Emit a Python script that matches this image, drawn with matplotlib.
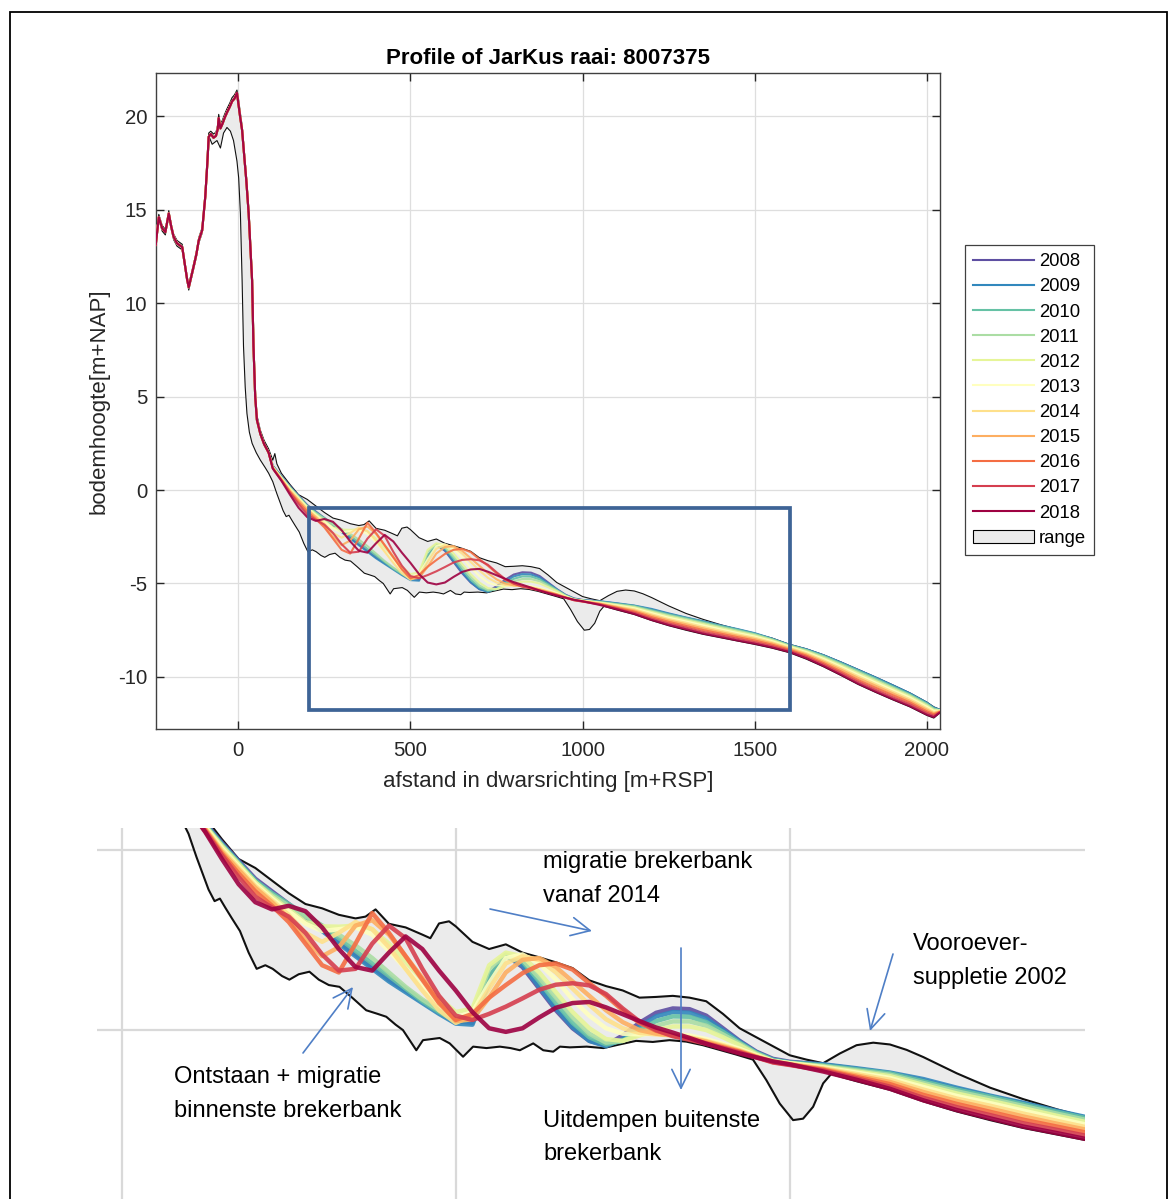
import numpy as np
import matplotlib
matplotlib.use('Agg')
import matplotlib.pyplot as plt
from matplotlib.patches import Rectangle, Patch, FancyArrowPatch
from matplotlib.lines import Line2D

plt.rcParams['font.family'] = ['Liberation Sans', 'DejaVu Sans']
plt.rcParams['axes.unicode_minus'] = False

# ---------------- data ----------------
years = [2008, 2009, 2010, 2011, 2012, 2013, 2014, 2015, 2016, 2017, 2018]
year_colors = ['#5E4FA2', '#3288BD', '#66C2A5', '#ABDDA4', '#E6F598', '#FFFFBF',
               '#FEE08B', '#FDAE61', '#F46D43', '#D53E4F', '#9E0142']

# dune part (practically identical for all years)
x_dune = [-240, -231, -221, -212, -202, -195, -188, -178, -163, -149, -144, -137, -130, -122,
          -115, -105, -96, -90, -86, -80, -72, -65, -60, -57, -52, -46, -40, -33, -25, -18,
          -11, -4, 0, 5, 11, 17, 23, 30, 35, 40, 44, 49, 54, 64, 75, 88]
z_dune = [13.1, 14.6, 14.0, 13.8, 14.8, 14.1, 13.55, 13.2, 13.0, 11.3, 10.85, 11.4, 11.95, 12.6,
          13.35, 13.9, 15.7, 17.5, 18.9, 19.05, 18.85, 18.95, 19.3, 19.9, 19.35, 19.6, 19.9, 20.2,
          20.5, 20.8, 20.95, 21.25, 20.7, 20.0, 19.25, 17.9, 16.6, 14.8, 13.0, 11.2, 7.7, 5.0,
          3.75, 3.0, 2.45, 2.0]

# breaker-bar zone
x_bar = [100, 125, 150, 175, 200, 225, 250, 275, 300, 325, 350, 375, 400, 425, 450, 475, 500,
         525, 550, 575, 600, 625, 650, 675, 700, 725, 750, 775, 800, 825, 850, 875, 900, 925,
         950, 975, 1000]
z2008_bar = [1.3, 0.75, 0.2, -0.3, -0.8, -1.15, -1.5, -1.85, -2.2, -2.55, -2.9, -3.25, -3.6, -3.9,
             -4.2, -4.5, -4.75, -4.8, -3.55, -2.92, -3.25, -3.85, -4.45, -4.95, -5.3, -5.42, -5.15,
             -4.8, -4.52, -4.4, -4.42, -4.6, -4.95, -5.3, -5.6, -5.8, -5.88]
z2009_bar = [1.28, 0.72, 0.17, -0.33, -0.85, -1.2, -1.55, -1.9, -2.25, -2.6, -2.95, -3.3, -3.65,
             -3.95, -4.25, -4.55, -4.82, -4.85, -3.7, -2.95, -3.2, -3.8, -4.4, -4.92, -5.3, -5.45,
             -5.25, -4.9, -4.62, -4.5, -4.52, -4.68, -5.0, -5.32, -5.62, -5.82, -5.9]
z2010_bar = [1.27, 0.7, 0.15, -0.35, -0.85, -1.2, -1.5, -1.8, -2.1, -2.45, -2.8, -3.15, -3.5, -3.85,
             -4.2, -4.5, -4.75, -4.7, -3.5, -2.95, -3.1, -3.65, -4.25, -4.8, -5.2, -5.4, -5.3, -5.0,
             -4.75, -4.62, -4.63, -4.78, -5.05, -5.35, -5.63, -5.83, -5.9]
z2011_bar = [1.25, 0.68, 0.12, -0.38, -0.9, -1.25, -1.55, -1.85, -2.1, -2.35, -2.65, -3.0, -3.4,
             -3.8, -4.15, -4.45, -4.7, -4.55, -3.3, -2.9, -3.05, -3.55, -4.1, -4.65, -5.1, -5.35,
             -5.3, -5.1, -4.88, -4.76, -4.76, -4.88, -5.12, -5.38, -5.65, -5.85, -5.92]
z2012_bar = [1.25, 0.66, 0.1, -0.4, -0.9, -1.3, -1.65, -2.0, -2.12, -2.13, -2.1, -2.2, -2.6, -3.1,
             -3.6, -4.1, -4.5, -4.4, -3.2, -2.85, -2.95, -3.4, -3.95, -4.5, -4.95, -5.25, -5.3,
             -5.15, -5.0, -4.9, -4.9, -5.0, -5.2, -5.42, -5.68, -5.86, -5.92]
z2013_bar = [1.22, 0.64, 0.05, -0.45, -0.95, -1.35, -1.7, -2.05, -2.25, -2.2, -2.15, -2.35, -2.8,
             -3.3, -3.8, -4.3, -4.65, -4.5, -3.7, -3.0, -2.9, -3.15, -3.6, -4.15, -4.6, -4.95, -5.1,
             -5.12, -5.1, -5.1, -5.15, -5.25, -5.38, -5.52, -5.7, -5.86, -5.92]
z2014_bar = [1.2, 0.6, 0.0, -0.5, -1.0, -1.4, -1.8, -2.3, -2.55, -2.3, -2.0, -2.2, -2.7, -3.3, -3.9,
             -4.45, -4.8, -4.6, -3.85, -3.15, -2.95, -3.05, -3.4, -3.85, -4.3, -4.7, -4.95, -5.08,
             -5.12, -5.15, -5.2, -5.3, -5.42, -5.56, -5.72, -5.87, -5.94]
z2015_bar = [1.2, 0.58, -0.05, -0.55, -1.05, -1.45, -1.9, -2.5, -2.95, -2.7, -2.1, -1.95, -2.35,
             -2.95, -3.55, -4.2, -4.75, -4.7, -4.1, -3.4, -3.05, -3.0, -3.25, -3.65, -4.05, -4.45,
             -4.78, -5.0, -5.1, -5.15, -5.22, -5.32, -5.45, -5.58, -5.74, -5.88, -5.95]
z2016_bar = [1.18, 0.55, -0.1, -0.65, -1.15, -1.55, -2.0, -2.6, -3.2, -3.4, -2.6, -1.75, -2.3, -2.95,
             -3.6, -4.25, -4.72, -4.55, -4.1, -3.75, -3.42, -3.2, -3.15, -3.32, -3.7, -4.05, -4.45,
             -4.8, -5.02, -5.15, -5.25, -5.36, -5.48, -5.6, -5.75, -5.89, -5.96]
z2017_bar = [1.16, 0.52, -0.15, -0.75, -1.3, -1.6, -1.85, -2.3, -2.9, -3.35, -3.3, -2.6, -2.1, -2.45,
             -3.3, -4.05, -4.6, -4.72, -4.55, -4.35, -4.12, -3.88, -3.74, -3.7, -3.76, -4.0, -4.4,
             -4.76, -5.0, -5.17, -5.27, -5.38, -5.5, -5.62, -5.76, -5.9, -5.97]
z2018_bar = [1.15, 0.5, -0.25, -0.95, -1.45, -1.65, -1.55, -1.7, -2.15, -2.75, -3.25, -3.35, -2.85,
             -2.4, -2.75, -3.35, -3.9, -4.5, -4.95, -5.05, -4.95, -4.65, -4.38, -4.25, -4.22, -4.37,
             -4.56, -4.75, -4.93, -5.07, -5.22, -5.38, -5.52, -5.65, -5.76, -5.87, -5.95]

# offshore part
x_off = [1050, 1100, 1150, 1200, 1250, 1300, 1350, 1400, 1450, 1500, 1550, 1600, 1650, 1700, 1750,
         1800, 1850, 1900, 1950, 2000, 2020, 2038]
z2008_off = [-5.96, -6.08, -6.2, -6.4, -6.63, -6.84, -7.04, -7.26, -7.46, -7.68, -7.96, -8.29, -8.53,
             -8.85, -9.23, -9.63, -10.04, -10.46, -10.89, -11.4, -11.66, -11.77]
z2009_off = [-5.95, -6.06, -6.18, -6.36, -6.6, -6.82, -7.02, -7.24, -7.44, -7.66, -7.95, -8.28, -8.52,
             -8.84, -9.22, -9.62, -10.02, -10.44, -10.87, -11.38, -11.64, -11.76]
z2010_off = [-5.98, -6.09, -6.2, -6.42, -6.65, -6.85, -7.06, -7.27, -7.47, -7.69, -7.97, -8.3, -8.55,
             -8.87, -9.26, -9.66, -10.07, -10.5, -10.92, -11.42, -11.68, -11.78]
z2011_off = [-6.0, -6.12, -6.24, -6.47, -6.7, -6.9, -7.11, -7.32, -7.52, -7.73, -8.0, -8.32, -8.58,
             -8.92, -9.31, -9.72, -10.13, -10.55, -10.97, -11.47, -11.72, -11.79]
z2012_off = [-6.02, -6.15, -6.28, -6.52, -6.76, -6.96, -7.17, -7.38, -7.58, -7.78, -8.04, -8.35, -8.63,
             -8.98, -9.38, -9.8, -10.21, -10.62, -11.03, -11.53, -11.77, -11.8]
z2013_off = [-6.04, -6.18, -6.33, -6.58, -6.83, -7.03, -7.24, -7.45, -7.65, -7.84, -8.09, -8.39, -8.68,
             -9.04, -9.45, -9.88, -10.29, -10.7, -11.1, -11.6, -11.82, -11.81]
z2014_off = [-6.06, -6.22, -6.38, -6.65, -6.9, -7.1, -7.32, -7.52, -7.72, -7.9, -8.14, -8.43, -8.73,
             -9.11, -9.52, -9.96, -10.37, -10.78, -11.18, -11.67, -11.88, -11.82]
z2015_off = [-6.08, -6.26, -6.44, -6.72, -6.97, -7.18, -7.4, -7.6, -7.79, -7.97, -8.2, -8.48, -8.79,
             -9.18, -9.6, -10.05, -10.46, -10.87, -11.27, -11.75, -11.94, -11.84]
z2016_off = [-6.1, -6.3, -6.5, -6.8, -7.05, -7.27, -7.49, -7.68, -7.87, -8.05, -8.27, -8.54, -8.86,
             -9.26, -9.7, -10.16, -10.57, -10.97, -11.36, -11.84, -12.0, -11.86]
z2017_off = [-6.12, -6.34, -6.57, -6.88, -7.14, -7.36, -7.59, -7.77, -7.96, -8.14, -8.35, -8.6, -8.93,
             -9.34, -9.79, -10.26, -10.68, -11.08, -11.46, -11.93, -12.08, -11.88]
z2018_off = [-6.15, -6.38, -6.63, -6.95, -7.22, -7.45, -7.68, -7.86, -8.05, -8.22, -8.42, -8.66, -9.0,
             -9.42, -9.88, -10.36, -10.78, -11.18, -11.56, -12.02, -12.15, -11.9]

# envelope of all measured profiles ("range")
rng_upper_x = [-240, -231, -221, -212, -202, -195, -188, -178, -163, -149, -144, -137, -130, -122,
               -115, -105, -96, -90, -86, -80, -72, -65, -60, -57, -52, -46, -40, -33, -25, -18,
               -11, -4, 0, 5, 11, 17, 23, 30, 35, 40, 44, 49, 54, 64, 75, 88, 100, 106, 112, 125,
               150, 175, 200, 225, 250, 275, 300, 325, 350, 365, 380, 400, 425, 450, 462, 475, 490,
               500, 525, 550, 575, 600, 625, 650, 675, 700, 725, 750, 775, 800, 825, 850, 875, 900,
               925, 950, 975, 1000, 1025, 1050, 1075, 1100, 1125, 1150, 1175, 1200, 1250, 1300,
               1350, 1400, 1450, 1500, 1550, 1600, 1650, 1700, 1750, 1800, 1850, 1900, 1950, 2000,
               2020, 2038]
rng_upper_z = [13.3, 14.75, 14.15, 13.95, 14.95, 14.25, 13.7, 13.35, 13.15, 11.45, 11.0, 11.55, 12.1,
               12.75, 13.5, 14.05, 15.85, 17.65, 19.1, 19.2, 19.05, 19.15, 19.5, 20.1, 19.55, 19.8,
               20.1, 20.4, 20.7, 21.0, 21.15, 21.4, 21.0, 20.3, 19.5, 18.2, 16.9, 15.1, 13.3, 11.5,
               8.0, 5.3, 4.0, 3.2, 2.65, 2.2, 1.6, 1.95, 1.4, 0.9, 0.3, -0.25, -0.5, -0.85, -1.2,
               -1.5, -1.62, -1.8, -1.9, -1.85, -1.65, -2.05, -2.15, -2.35, -2.45, -2.04, -1.98,
               -2.12, -2.55, -2.75, -2.62, -2.85, -2.98, -3.12, -3.28, -3.62, -3.78, -3.9, -4.1,
               -4.08, -4.05, -4.1, -4.2, -4.55, -4.95, -5.2, -5.45, -5.7, -5.82, -5.92, -5.65, -5.42,
               -5.35, -5.4, -5.55, -5.75, -6.2, -6.6, -6.92, -7.2, -7.45, -7.68, -7.92, -8.25, -8.5,
               -8.82, -9.2, -9.6, -10.0, -10.42, -10.85, -11.35, -11.6, -11.74]
rng_lower_x = [-240, -231, -221, -212, -202, -195, -188, -178, -163, -149, -144, -137, -130, -122,
               -115, -105, -96, -90, -86, -76, -62, -52, -43, -33, -23, -14, -9, -4, 1, 6, 11, 15,
               20, 25, 32, 40, 52, 64, 78, 88, 100, 112, 122, 130, 139, 147, 155, 165, 177, 190,
               202, 215, 226, 240, 251, 265, 281, 295, 310, 326, 345, 366, 383, 396, 410, 421, 441,
               451, 476, 491, 511, 526, 546, 566, 582, 596, 616, 631, 646, 656, 671, 696, 721, 745,
               770, 795, 820, 845, 870, 895, 920, 945, 965, 985, 1005, 1020, 1035, 1050, 1062, 1100,
               1150, 1200, 1250, 1300, 1350, 1400, 1450, 1500, 1550, 1600, 1650, 1700, 1750, 1800,
               1850, 1900, 1950, 2000, 2020, 2038]
rng_lower_z = [13.0, 14.45, 13.85, 13.65, 14.65, 13.95, 13.4, 13.05, 12.85, 11.15, 10.7, 11.25, 11.8,
               12.45, 13.2, 13.75, 15.5, 17.3, 18.95, 18.5, 18.7, 18.3, 19.1, 19.4, 19.2, 18.7,
               18.15, 17.6, 16.7, 14.8, 11.2, 7.7, 5.5, 4.1, 3.1, 2.5, 2.0, 1.6, 1.2, 0.9, 0.45,
               -0.2, -0.7, -1.1, -1.42, -1.35, -1.6, -1.9, -2.25, -2.85, -3.3, -3.2, -3.3, -3.5,
               -3.6, -3.45, -3.38, -3.6, -3.75, -3.8, -4.1, -4.45, -4.55, -4.63, -4.85, -5.0, -5.56,
               -5.28, -5.22, -5.37, -5.74, -5.46, -5.5, -5.46, -5.5, -5.56, -5.37, -5.56, -5.6,
               -5.46, -5.48, -5.46, -5.5, -5.4, -5.3, -5.33, -5.28, -5.32, -5.42, -5.55, -5.68,
               -5.82, -6.39, -7.04, -7.5, -7.46, -7.13, -6.48, -6.22, -6.42, -6.66, -6.98, -7.26,
               -7.5, -7.72, -7.9, -8.08, -8.26, -8.46, -8.7, -9.05, -9.46, -9.92, -10.4, -10.82,
               -11.22, -11.6, -12.06, -12.2, -11.92]

bar_profiles = [z2008_bar, z2009_bar, z2010_bar, z2011_bar, z2012_bar, z2013_bar, z2014_bar,
                z2015_bar, z2016_bar, z2017_bar, z2018_bar]
off_profiles = [z2008_off, z2009_off, z2010_off, z2011_off, z2012_off, z2013_off, z2014_off,
                z2015_off, z2016_off, z2017_off, z2018_off]

title = 'Profile of JarKus raai: 8007375'
xlabel = 'afstand in dwarsrichting [m+RSP]'
ylabel = 'bodemhoogte[m+NAP]'

W, H = 1172, 1199
fig = plt.figure(figsize=(W / 100, H / 100), dpi=100)
fig.patch.set_facecolor('white')

RANGE_FACE = '#ebebeb'


def draw_profiles(ax, lw_line, lw_edge, alpha):
    px = np.concatenate([rng_upper_x, rng_lower_x[::-1]])
    pz = np.concatenate([rng_upper_z, rng_lower_z[::-1]])
    ax.fill(px, pz, facecolor=RANGE_FACE, edgecolor='none', zorder=1)
    ax.plot(rng_upper_x, rng_upper_z, color='#111111', lw=lw_edge, zorder=2)
    ax.plot(rng_lower_x, rng_lower_z, color='#111111', lw=lw_edge, zorder=2)
    for yr, col, zb, zo in zip(years, year_colors, bar_profiles, off_profiles):
        xx = list(x_dune) + list(x_bar) + list(x_off)
        zz = list(z_dune) + list(zb) + list(zo)
        ax.plot(xx, zz, color=col, lw=lw_line, alpha=alpha, zorder=3,
                solid_joinstyle='round', solid_capstyle='round')


# ---------------- main axes ----------------
ax = fig.add_axes([155.7 / W, 1 - 728.7 / H, (940 - 155.7) / W, (728.7 - 72.7) / H])
draw_profiles(ax, 1.5, 0.8, 0.9)
ax.set_xlim(-240, 2038)
ax.set_ylim(-12.77, 22.33)
ax.set_xticks([0, 500, 1000, 1500, 2000])
ax.set_yticks([-10, -5, 0, 5, 10, 15, 20])
ax.grid(True, color='#dedede', lw=0.9)
ax.set_axisbelow(True)
for s in ax.spines.values():
    s.set_color('#404040')
    s.set_linewidth(1.0)
ax.tick_params(direction='in', length=6, width=1.0, top=True, right=True,
               labelsize=14.7, colors='#262626')
ax.tick_params(axis='x', pad=9)
ax.tick_params(axis='y', pad=6)
ax.set_xlabel(xlabel, fontsize=16, color='#262626', labelpad=8)
ax.set_ylabel(ylabel, fontsize=16, color='#262626', labelpad=6)
ax.set_title(title, fontsize=16, fontweight='bold', pad=6)

# highlighted zoom window
ax.add_patch(Rectangle((206, -11.76), 1603 - 206, 11.76 - 0.96, fill=False,
                       edgecolor='#3e6496', lw=2.7, zorder=6))

handles = [Line2D([], [], color=c, lw=1.5) for c in year_colors]
handles.append(Patch(facecolor=RANGE_FACE, edgecolor='black', lw=0.8))
labels = [str(y) for y in years] + ['range']
leg = ax.legend(handles, labels, loc='upper left', bbox_to_anchor=(965 / W, 1 - 245 / H),
                bbox_transform=fig.transFigure, borderaxespad=0, fontsize=13.3,
                handlelength=3.3, handletextpad=0.25, labelspacing=0.44, borderpad=0.45,
                fancybox=False, framealpha=1, edgecolor='#404040')
leg.get_frame().set_linewidth(0.9)

# ---------------- magnified view ----------------
ax2 = fig.add_axes([97 / W, 0, (1085 - 97) / W, (H - 828) / H])
draw_profiles(ax2, 3.2, 1.5, 0.9)
ax2.set_xlim(-37, 1442)
ax2.set_ylim(-9.69, 0.61)
ax2.set_xticks([0, 500, 1000])
ax2.set_yticks([-5, 0])
ax2.grid(True, color='#d9d9d9', lw=1.6)
ax2.set_axisbelow(True)
ax2.tick_params(length=0, labelbottom=False, labelleft=False)
for s in ax2.spines.values():
    s.set_visible(False)


def ftext(x, y, s):
    fig.text(x / W, 1 - y / H, s, fontsize=17, ha='left', va='baseline', color='black')


ftext(543, 868, 'migratie brekerbank')
ftext(543, 902, 'vanaf 2014')
ftext(913, 950, 'Vooroever-')
ftext(913, 984, 'suppletie 2002')
ftext(174, 1083, 'Ontstaan + migratie')
ftext(174, 1117, 'binnenste brekerbank')
ftext(543, 1127, 'Uitdempen buitenste')
ftext(543, 1160, 'brekerbank')

arrow_col = '#4f7fc6'
for (x0, y0), (x1, y1) in [((303, 1053), (353, 987)), ((490, 909), (592, 931)),
                           ((681, 948), (681, 1090)), ((893, 954), (870, 1031))]:
    fig.add_artist(FancyArrowPatch(
        (x0 / W, 1 - y0 / H), (x1 / W, 1 - y1 / H), transform=fig.transFigure,
        arrowstyle='->,head_length=0.45,head_width=0.22', mutation_scale=30,
        color=arrow_col, lw=1.2, shrinkA=0, shrinkB=0, zorder=10))

# outer frame
fig.add_artist(Rectangle((10 / W, -0.01), (1167 - 10) / W, (1 - 12 / H) + 0.01,
                         transform=fig.transFigure, fill=False, edgecolor='black', lw=1.3,
                         zorder=20))

fig.savefig('out.png', dpi=100)
